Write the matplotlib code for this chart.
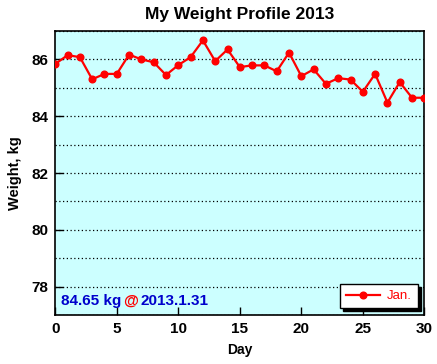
import matplotlib.pyplot as plt
from matplotlib.offsetbox import TextArea, HPacker, AnchoredOffsetbox

plt.rcParams['font.family'] = ['Liberation Sans', 'DejaVu Sans']

days = list(range(0, 31))
weight = [85.84, 86.15, 86.08, 85.30, 85.49, 85.49, 86.17, 86.00, 85.90, 85.45,
          85.80, 86.08, 86.67, 85.94, 86.35, 85.73, 85.79, 85.79, 85.58, 86.24,
          85.41, 85.65, 85.14, 85.34, 85.29, 84.86, 85.49, 84.48, 85.20, 84.65,
          84.65]
series_label = "Jan."
last_text = ["84.65 kg", "@", "2013.1.31"]

fig = plt.figure(figsize=(4.37, 3.64), dpi=100)
ax = fig.add_axes([0.1265, 0.1346, 0.8445, 0.7802])
ax.set_facecolor("#ccffff")

ax.plot(days, weight, color="red", lw=1.6, marker="o", ms=4.8,
        label=series_label, zorder=3)

ax.set_xlim(0, 30)
ax.set_ylim(77, 87)
ax.set_xticks(range(0, 31, 5))
ax.set_yticks(range(78, 87, 2))
ax.set_yticks(range(77, 88), minor=True)
ax.tick_params(axis="y", which="minor", length=0)
ax.tick_params(direction="in", length=6, width=1, labelsize=11, pad=5)
for lbl in ax.get_xticklabels() + ax.get_yticklabels():
    lbl.set_fontweight("bold")
ax.grid(True, which="both", axis="y", color="black", ls=(0, (1, 2)), lw=0.9)
for s in ax.spines.values():
    s.set_linewidth(1.2)

ax.set_title("My Weight Profile 2013", fontsize=12.5, fontweight="bold", pad=9)
ax.set_xlabel("Day", fontsize=10, fontweight="bold", labelpad=5)
ax.set_ylabel("Weight, kg", fontsize=10.5, fontweight="bold", labelpad=7)

leg = ax.legend(loc="lower right", fancybox=False, shadow={"color": "black", "alpha": 1},
                fontsize=9.5, handlelength=2.6, handletextpad=0.5,
                borderaxespad=0.5, borderpad=0.45, framealpha=1)
leg.get_frame().set_edgecolor("black")
leg.get_frame().set_linewidth(1)
for t in leg.get_texts():
    t.set_color("red")

colors = ["#0000cc", "red", "#0000cc"]
parts = [TextArea(s, textprops=dict(color=c, fontsize=11, fontweight="bold"))
         for s, c in zip(last_text, colors)]
box = HPacker(children=parts, align="baseline", pad=0, sep=1.5)
anch = AnchoredOffsetbox(loc="lower left", child=box, pad=0.1, frameon=False,
                         bbox_to_anchor=(0.012, 0.02), bbox_transform=ax.transAxes,
                         borderpad=0)
ax.add_artist(anch)

fig.savefig("out.png", dpi=100)
